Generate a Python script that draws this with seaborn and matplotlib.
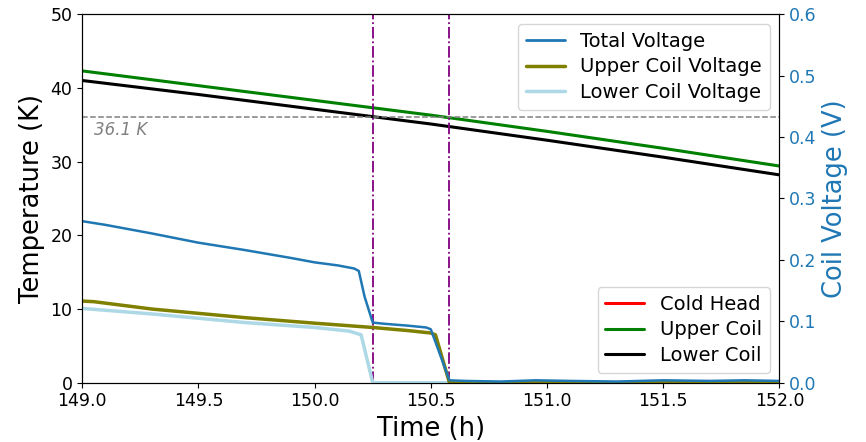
"""
Quench test: coil temperatures and voltages around 150 h
"""

import matplotlib
matplotlib.use("Agg")
import matplotlib.pyplot as plt
from matplotlib.lines import Line2D
import seaborn as sns

sns.set_style("ticks", {"axes.edgecolor": "black", "xtick.color": "black",
                        "ytick.color": "black", "text.color": "black",
                        "axes.labelcolor": "black"})
plt.rcParams["font.family"] = ["DejaVu Sans"]

# ---------------------------------------------------------------
# Data
# ---------------------------------------------------------------
t_temp = [149.0, 149.5, 150.0, 150.5, 151.0, 151.5, 152.0]
upper_coil_T = [42.3, 40.3, 38.3, 36.3, 34.1, 31.8, 29.4]
lower_coil_T = [41.0, 39.1, 37.1, 35.1, 32.9, 30.6, 28.2]

t_total = [149.0, 149.1, 149.3, 149.5, 149.7, 149.9, 150.0, 150.1, 150.17,
           150.19, 150.215, 150.25, 150.3, 150.4, 150.48, 150.5, 150.58,
           150.65, 150.8, 150.95, 151.1, 151.3, 151.5, 151.7, 151.85, 152.0]
total_V = [0.263, 0.257, 0.243, 0.228, 0.216, 0.203, 0.196, 0.191, 0.186,
           0.182, 0.140, 0.098, 0.096, 0.093, 0.090, 0.087, 0.004,
           0.003, 0.002, 0.004, 0.003, 0.002, 0.004, 0.003, 0.004, 0.003]

t_upper = [149.0, 149.05, 149.3, 149.5, 149.7, 150.0, 150.25, 150.4, 150.5,
           150.52, 150.58, 151.0, 152.0]
upper_V = [0.133, 0.132, 0.120, 0.113, 0.106, 0.097, 0.090, 0.085, 0.081,
           0.078, 0.0, 0.0, 0.0]

t_lower = [149.0, 149.3, 149.5, 149.7, 150.0, 150.15, 150.2, 150.25, 151.0, 152.0]
lower_V = [0.121, 0.112, 0.105, 0.098, 0.090, 0.084, 0.078, 0.0, 0.0, 0.0]

quench_times = [150.25, 150.58]
threshold_T = 36.1

# ---------------------------------------------------------------
# Figure
# ---------------------------------------------------------------
fig, ax = plt.subplots(figsize=(8.66, 4.42), dpi=100)
fig.subplots_adjust(left=0.095, right=0.90, top=0.968, bottom=0.134)
ax2 = ax.twinx()

vcol = "#1f77b4"
sns.lineplot(x=t_lower, y=lower_V, ax=ax2, color="lightblue", lw=2.5)
sns.lineplot(x=t_upper, y=upper_V, ax=ax2, color="olive", lw=2.5)
sns.lineplot(x=t_total, y=total_V, ax=ax2, color=vcol, lw=1.8)

sns.lineplot(x=t_temp, y=upper_coil_T, ax=ax, color="green", lw=2.2)
sns.lineplot(x=t_temp, y=lower_coil_T, ax=ax, color="black", lw=2.2)

ax.axhline(threshold_T, color="gray", ls="--", lw=1.1)
ax.text(149.05, threshold_T - 0.6, f"{threshold_T} K", color="gray",
        style="italic", fontsize=12, va="top")
for q in quench_times:
    ax.axvline(q, color="purple", ls="-.", lw=1.3)

ax.set_xlim(149.0, 152.0)
ax.set_ylim(0, 50)
ax2.set_ylim(0, 0.6)
ax.set_xticks([149.0, 149.5, 150.0, 150.5, 151.0, 151.5, 152.0])
ax.set_xlabel("Time (h)", fontsize=18.5)
ax.set_ylabel("Temperature (K)", fontsize=18.5)
ax2.set_ylabel("Coil Voltage (V)", fontsize=18.5, color=vcol)
ax.tick_params(labelsize=12.5)
ax2.tick_params(labelsize=12.5, labelcolor=vcol)

v_handles = [Line2D([], [], color=vcol, lw=2),
             Line2D([], [], color="olive", lw=2.5),
             Line2D([], [], color="lightblue", lw=2.5)]
ax2.legend(v_handles, ["Total Voltage", "Upper Coil Voltage", "Lower Coil Voltage"],
           loc="upper right", fontsize=14, labelspacing=0.35)

t_handles = [Line2D([], [], color="red", lw=2.2),
             Line2D([], [], color="green", lw=2.2),
             Line2D([], [], color="black", lw=2.2)]
ax2.add_artist(ax2.get_legend())
ax2.legend(t_handles, ["Cold Head", "Upper Coil", "Lower Coil"],
           loc="lower right", fontsize=14, labelspacing=0.35)

plt.savefig("out.png", dpi=100)
plt.close()
